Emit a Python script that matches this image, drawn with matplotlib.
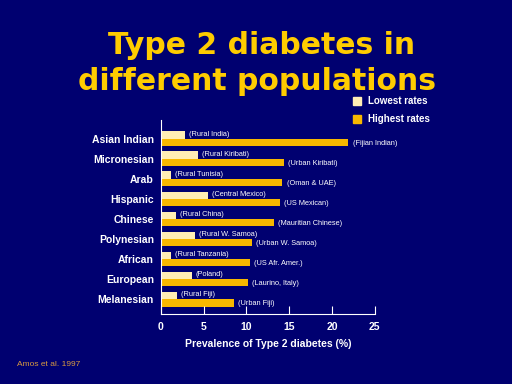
import numpy as np
import matplotlib.pyplot as plt

plt.rcParams['font.family'] = ['Liberation Sans', 'DejaVu Sans']

# data
populations = ["Asian Indian", "Micronesian", "Arab", "Hispanic", "Chinese",
               "Polynesian", "African", "European", "Melanesian"]
lowest = [2.8, 4.3, 1.2, 5.5, 1.8, 4.0, 1.2, 3.6, 1.9]
highest = [21.9, 14.4, 14.2, 13.9, 13.2, 10.6, 10.4, 10.2, 8.5]
low_groups = ["(Rural India)", "(Rural Kiribati)", "(Rural Tunisia)", "(Central Mexico)",
              "(Rural China)", "(Rural W. Samoa)", "(Rural Tanzania)", "(Poland)", "(Rural Fiji)"]
high_groups = ["(Fijian Indian)", "(Urban Kiribati)", "(Oman & UAE)", "(US Mexican)",
               "(Mauritian Chinese)", "(Urban W. Samoa)", "(US Afr. Amer.)",
               "(Laurino, Italy)", "(Urban Fiji)"]
xticks = [0, 5, 10, 15, 20, 25]

bg = "#000070"
low_col = "#FFEDB5"
high_col = "#F7B800"

fig = plt.figure(figsize=(5.12, 3.84), dpi=100, facecolor=bg)
ax = fig.add_axes([0.314, 0.182, 0.418, 0.506])
ax.set_facecolor(bg)

y = np.arange(len(populations))
h = 0.36
ax.barh(y - 0.19, lowest, height=h, color=low_col)
ax.barh(y + 0.19, highest, height=h, color=high_col)

for i in range(len(populations)):
    ax.text(lowest[i] + 0.5, y[i] - 0.22, low_groups[i], color="white",
            fontsize=5.3, va="center", ha="left")
    ax.text(highest[i] + 0.5, y[i] + 0.24, high_groups[i], color="white",
            fontsize=5.3, va="center", ha="left")

ax.set_xlim(0, 25)
ax.set_ylim(8.75, -0.95)
ax.set_yticks(y)
ax.set_yticklabels(populations, color="white", fontsize=7.5, fontweight="bold")
ax.set_xticks(xticks)
ax.set_xticklabels([str(t) for t in xticks], color="white", fontsize=7.5, fontweight="bold")
ax.tick_params(axis="y", length=0, pad=5)
ax.tick_params(axis="x", direction="in", length=6, color="white", pad=6)
for s in ["top", "right"]:
    ax.spines[s].set_visible(False)
for s in ["left", "bottom"]:
    ax.spines[s].set_color("white")
ax.set_xlabel("Prevalence of Type 2 diabetes (%)", color="white", fontsize=7.5,
              fontweight="bold", labelpad=5)

# title
fig.text(0.51, 1 - 45 / 384, "Type 2 diabetes in", color="#FFCC00", fontsize=21.5,
         fontweight="heavy", ha="center", va="center", family="DejaVu Sans")
fig.text(0.502, 1 - 81 / 384, "different populations", color="#FFCC00", fontsize=21.5,
         fontweight="heavy", ha="center", va="center", family="DejaVu Sans")

# legend
fig.patches.append(plt.Rectangle((353 / 512, 1 - 105 / 384), 8 / 512, 8 / 384,
                                 transform=fig.transFigure, color=low_col))
fig.patches.append(plt.Rectangle((353 / 512, 1 - 123 / 384), 8 / 512, 8 / 384,
                                 transform=fig.transFigure, color=high_col))
fig.text(368 / 512, 1 - 101 / 384, "Lowest rates", color="white", fontsize=7,
         fontweight="bold", va="center")
fig.text(368 / 512, 1 - 119 / 384, "Highest rates", color="white", fontsize=7,
         fontweight="bold", va="center")

fig.text(17 / 512, 1 - 365 / 384, "Amos et al. 1997", color="#D89A40", fontsize=6,
         va="center")

fig.savefig("out.png", dpi=100, facecolor=bg)
